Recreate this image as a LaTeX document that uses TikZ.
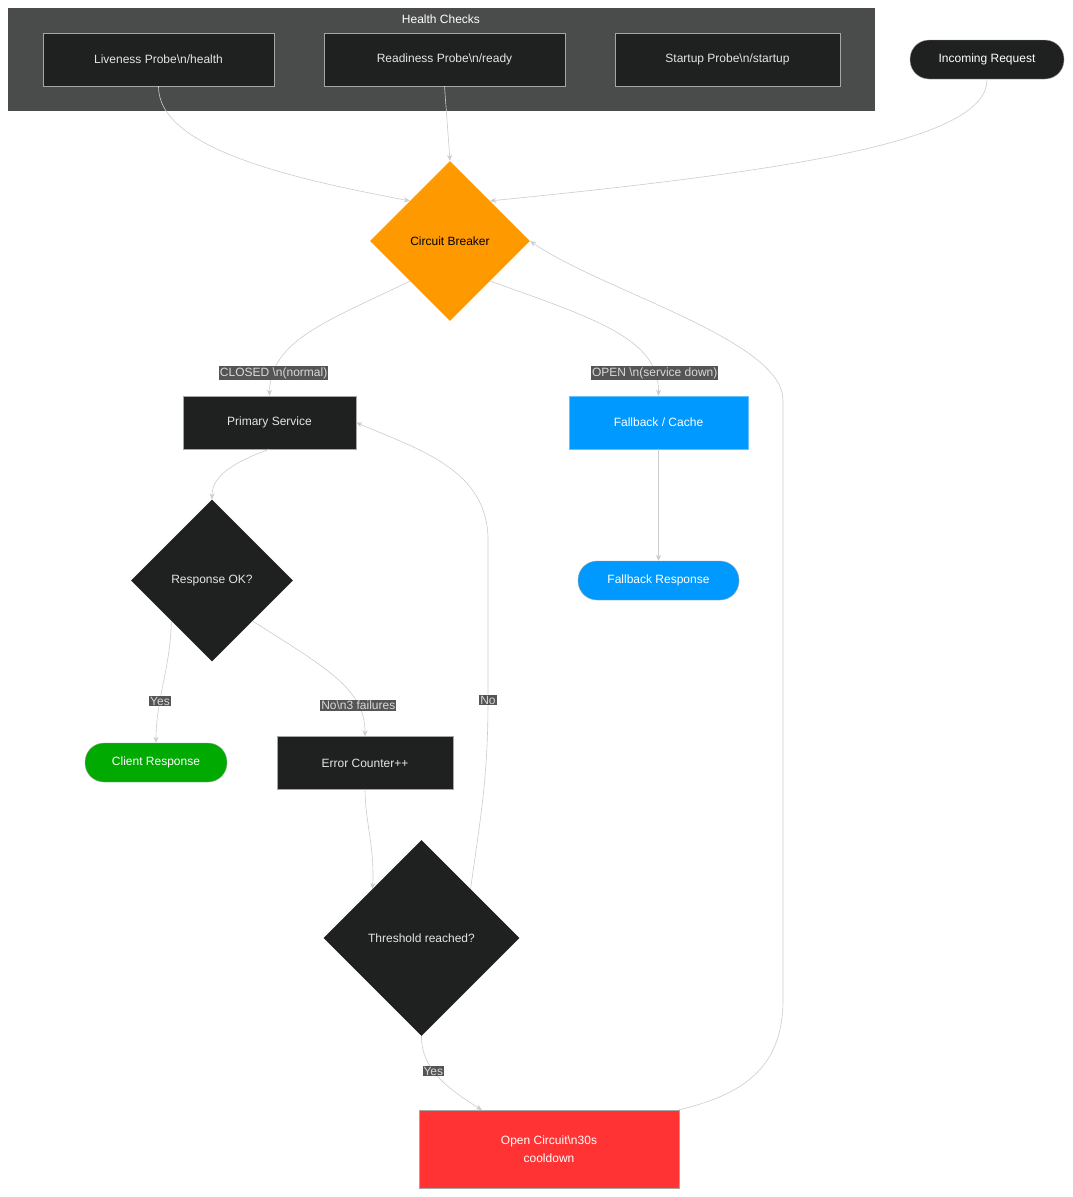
\documentclass[tikz,border=0pt]{standalone}
\usepackage{fontspec}
\setmainfont{Liberation Sans}
\usetikzlibrary{shapes.geometric,arrows.meta}
\definecolor{dk}{HTML}{1F2020}
\definecolor{clu}{HTML}{4A4B4B}
\definecolor{ln}{HTML}{CCCCCC}
\definecolor{lb}{HTML}{555555}
\definecolor{org}{HTML}{FF9900}
\definecolor{blu}{HTML}{0099FF}
\definecolor{grn}{HTML}{00AA00}
\definecolor{rd}{HTML}{FF3333}
\tikzset{
 box/.style={draw=gray!70, fill=dk, text=white!90!black, minimum width=#1, minimum height=53pt, inner sep=0pt, font=\fontsize{12}{14}\selectfont},
 pill/.style={draw=gray!70, fill=dk, text=white, rounded corners=19pt, minimum height=39pt, minimum width=#1, inner sep=0pt, font=\fontsize{12}{14}\selectfont},
 dia/.style={diamond, aspect=1, draw=none, fill=dk, text=white!90!black, minimum size=#1, inner sep=0pt, font=\fontsize{12}{14}\selectfont},
 edge/.style={draw=ln, line width=0.6pt, -{Stealth[length=6pt,width=5pt]}},
 elab/.style={fill=lb, text=white!85!black, inner sep=1pt, font=\fontsize{12}{14}\selectfont},
}
\newcommand{\bn}{\textbackslash n}
\begin{document}
\begin{tikzpicture}[x=1pt,y=-1pt]
\useasboundingbox[fill=white] (0,0) rectangle (1073,1197);
\fill[clu] (8,8) rectangle (875,111);
\node[text=white, font=\fontsize{12}{14}\selectfont] (hc) at (441,19) {Health Checks};
\node[box=231pt] (live) at (158.5,59.5) {Liveness Probe\bn/health};
\node[box=241pt] (ready) at (444.5,59.5) {Readiness Probe\bn/ready};
\node[box=225pt] (start) at (727.5,59.5) {Startup Probe\bn/startup};
\node[pill=154pt] (inc) at (987,59.5) {Incoming Request};
\node[dia=160pt, fill=org, text=black] (cb) at (450,241) {Circuit Breaker};
\node[box=173pt] (prim) at (269.5,422.5) {Primary Service};
\node[box=179pt, fill=blu, text=white, draw=blu!60] (fb) at (658.5,422.5) {Fallback / Cache};
\node[pill=161pt, fill=blu, text=white] (fbr) at (658.5,580.5) {Fallback Response};
\node[dia=162pt] (rok) at (212,580.5) {Response OK?};
\node[pill=142pt, fill=grn, text=white] (cli) at (156,762.5) {Client Response};
\node[box=176pt] (err) at (365,763) {Error Counter++};
\node[dia=196pt] (thr) at (421.5,938) {Threshold reached?};
\node[box=260pt, fill=rd, text=white, minimum height=78pt, align=center, font=\fontsize{12}{18}\selectfont] (open) at (549,1149) {Open Circuit\bn30s\\cooldown};

\draw[edge] (live.south) .. controls (158,150) and (300,180) .. (cb.north west);
\draw[edge] (ready.south) -- (cb.north);
\draw[edge] (inc.south) .. controls (988,140) and (800,170) .. (cb.north east);
\draw[edge] (cb.south west) .. controls (330,320) and (270,340) .. node[elab, pos=0.85] (l1) {CLOSED \bn(normal)} (prim.north);
\draw[edge] (cb.south east) .. controls (600,320) and (659,340) .. node[elab, pos=0.85] (l2) {OPEN \bn(service down)} (fb.north);
\draw[edge] (fb.south) -- (fbr.north);
\draw[edge] (prim.south) .. controls (225,465) and (212,480) .. (rok.north);
\draw[edge] (rok.south west) .. controls (170,670) and (156,700) .. node[elab, pos=0.65] (l3) {Yes} (cli.north);
\draw[edge] (rok.south east) .. controls (330,670) and (365,690) .. node[elab, pos=0.75] (l4) {No\bn3 failures} (err.north);
\draw[edge] (err.south) .. controls (365,820) and (375,850) .. (thr.north west);
\coordinate (w1) at (488,540);
\draw[edge] (thr.north east) .. controls (480,820) and (488,780) .. (488,700) node[elab] (l5) {No} -- (w1) .. controls (488,470) and (420,450) .. (prim.east);
\draw[edge] (thr.south) .. controls (421,1070) and (450,1090) .. node[elab, pos=0.4] (l6) {Yes} (482,1110);
\coordinate (w2) at (783,1000);
\draw[edge] (open.north east) .. controls (740,1095) and (783,1070) .. (w2) -- (783,400) .. controls (783,340) and (600,290) .. (cb.east);
\end{tikzpicture}
\end{document}
